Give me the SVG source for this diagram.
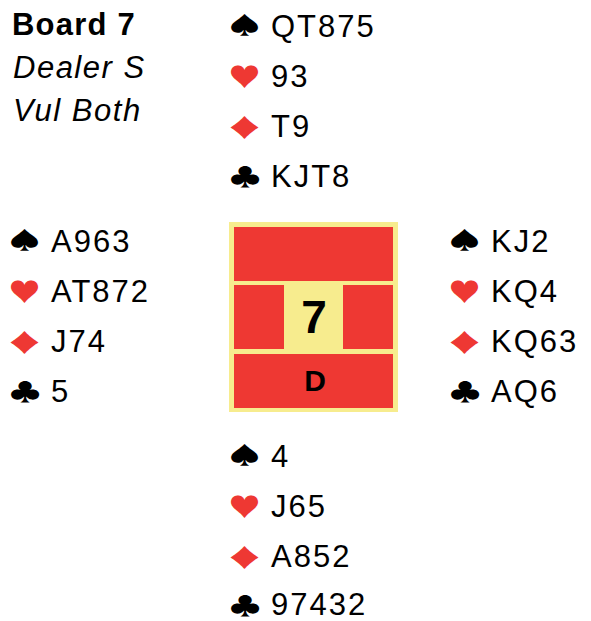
<svg xmlns="http://www.w3.org/2000/svg" width="591" height="621" viewBox="0 0 591 621">
<style>
text{font-family:"Liberation Sans",Arial,sans-serif;fill:#000}
.h{font-size:31px;letter-spacing:2px}
.s{font-family:"Noto Sans CJK JP","DejaVu Sans",sans-serif;font-size:100px}
.r{fill:#ee3833}
.b{font-weight:bold}
.i{font-style:italic;font-size:31px;letter-spacing:1.5px}
.red{fill:#ee3833}
</style>
<rect width="591" height="621" fill="#fff"/>
<g id="info">
<text x="12" y="35" class="b" font-size="31" letter-spacing="1.2">Board 7</text>
<text x="13" y="78" class="i">Dealer S</text>
<text x="13" y="121" class="i">Vul Both</text>
</g>
<g id="north">
<text class="s" transform="translate(228.4,34.3) scale(0.321,0.239)">♠</text><text x="271" y="36.5" class="h">QT875</text>
<text class="s red" transform="translate(228.4,86.5) scale(0.321,0.269)">♥</text><text x="271" y="86.5" class="h">93</text>
<text class="s red" transform="translate(225.2,135.7) scale(0.386,0.244)">♦</text><text x="271" y="136.5" class="h">T9</text>
<text class="s" transform="translate(229.1,185.5) scale(0.322,0.25)">♣</text><text x="271" y="186.5" class="h">KJT8</text>
</g>
<g id="west">
<text class="s" transform="translate(8.4,249.3) scale(0.321,0.239)">♠</text><text x="51" y="251.5" class="h">A963</text>
<text class="s red" transform="translate(8.4,301.5) scale(0.321,0.269)">♥</text><text x="51" y="301.5" class="h">AT872</text>
<text class="s red" transform="translate(5.2,350.7) scale(0.386,0.244)">♦</text><text x="51" y="351.5" class="h">J74</text>
<text class="s" transform="translate(9.1,400.5) scale(0.322,0.25)">♣</text><text x="51" y="401.5" class="h">5</text>
</g>
<g id="east">
<text class="s" transform="translate(448.4,249.3) scale(0.321,0.239)">♠</text><text x="491" y="251.5" class="h">KJ2</text>
<text class="s red" transform="translate(448.4,301.5) scale(0.321,0.269)">♥</text><text x="491" y="301.5" class="h">KQ4</text>
<text class="s red" transform="translate(445.2,350.7) scale(0.386,0.244)">♦</text><text x="491" y="351.5" class="h">KQ63</text>
<text class="s" transform="translate(449.1,400.5) scale(0.322,0.25)">♣</text><text x="491" y="401.5" class="h">AQ6</text>
</g>
<g id="south">
<text class="s" transform="translate(228.4,464.3) scale(0.321,0.239)">♠</text><text x="271" y="466.5" class="h">4</text>
<text class="s red" transform="translate(228.4,516.5) scale(0.321,0.269)">♥</text><text x="271" y="516.5" class="h">J65</text>
<text class="s red" transform="translate(225.2,565.7) scale(0.386,0.244)">♦</text><text x="271" y="566.5" class="h">A852</text>
<text class="s" transform="translate(229.1,614.5) scale(0.322,0.25)">♣</text><text x="271" y="614.5" class="h">97432</text>
</g>
<g id="board">
<rect x="229" y="222" width="169" height="190" fill="#f7ec8e"/>
<rect x="234" y="227" width="159" height="54" class="r"/>
<rect x="234" y="285" width="50" height="64" class="r"/>
<rect x="343" y="285" width="50" height="64" class="r"/>
<rect x="234" y="354" width="159" height="54" class="r"/>
<text x="314" y="333" class="b" font-size="46" text-anchor="middle">7</text>
<text x="315" y="391" class="b" font-size="30" text-anchor="middle">D</text>
</g>
</svg>
